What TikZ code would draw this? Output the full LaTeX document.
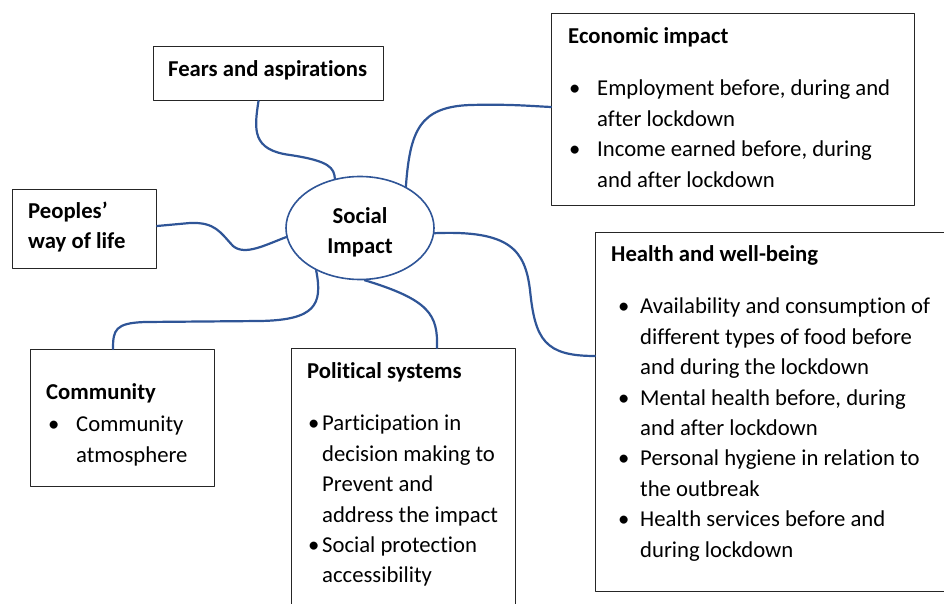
\documentclass[tikz,border=0pt]{standalone}
\usepackage{fontspec}
\usetikzlibrary{shapes.geometric}
\setmainfont{Carlito}[Ligatures=CommonOff]
\newcommand{\fs}{\fontsize{22.7}{30.4}\selectfont}
\newcommand{\itm}[2]{\hspace*{#1pt}\makebox[#2pt][l]{\textbullet}}
\newcommand{\skipin}[1]{\hspace*{#1pt}}
\definecolor{linkblue}{HTML}{2F5597}
\tikzset{
  box/.style={draw=black!85, line width=1pt, anchor=north west, inner sep=0},
  txt/.style={anchor=north west, align=left, inner sep=0, font=\fs},
  link/.style={draw=linkblue, line width=2.2pt, line cap=round}
}
\begin{document}
\begin{tikzpicture}[x=1pt,y=-1pt,line join=round]
  \useasboundingbox (0,0) rectangle (944,604);
  \clip (0,0) rectangle (944,604);
  % centre
  \node[ellipse, draw=linkblue, line width=1.6pt, minimum width=148, minimum height=103, inner sep=0, align=center, font=\fs\bfseries] (soc) at (360,228) {\rule{0pt}{24pt}Social\\Impact};
  % boxes
  \node[box, minimum width=230, minimum height=54] (fears) at (153,46) {};
  \node[box, minimum width=363, minimum height=192] (econ) at (551,13) {};
  \node[box, minimum width=144, minimum height=79] (life) at (12,189) {};
  \node[box, minimum width=349, minimum height=359] (health) at (595,232) {};
  \node[box, minimum width=184, minimum height=137] (comm) at (30,349) {};
  \node[box, minimum width=224, minimum height=280] (pol) at (291,348) {};
  % texts
  \node[txt] (fearst) at ([shift={(15,9)}]fears.north west) {\strut\textbf{Fears and aspirations}};
  \node[txt] (econt) at ([shift={(17,9)}]econ.north west) {\strut\textbf{Economic impact}\\[22pt]
    \itm{1}{28}Employment before, during and\\
    \skipin{29}after lockdown\\
    \itm{1}{28}Income earned before, during\\
    \skipin{29}and after lockdown};
  \node[txt] (lifet) at ([shift={(16,8)}]life.north west) {\strut\textbf{Peoples’}\\\textbf{way of life}};
  \node[txt] (healtht) at ([shift={(16,8)}]health.north west) {\strut\textbf{Health and well-being}\\[22pt]
    \itm{7}{22}Availability and consumption of\\
    \skipin{29}different types of food before\\
    \skipin{29}and during the lockdown\\
    \itm{7}{22}Mental health before, during\\
    \skipin{29}and after lockdown\\
    \itm{7}{22}Personal hygiene in relation to\\
    \skipin{29}the outbreak\\
    \itm{7}{22}Health services before and\\
    \skipin{29}during lockdown};
  \node[txt] (commt) at ([shift={(16,29)}]comm.north west) {\strut\textbf{Community}\\[2pt]
    \itm{2}{28}Community\\
    \skipin{30}atmosphere};
  \node[txt] (polt) at ([shift={(16,9)}]pol.north west) {\strut\textbf{Political systems}\\[22pt]
    \itm{1}{14}Participation in\\
    \skipin{15}decision making to\\
    \skipin{15}Prevent and\\
    \skipin{15}address the impact\\
    \itm{1}{14}Social protection\\
    \skipin{15}accessibility};
  % connectors
  \draw[link] ([xshift=-10pt]fears.south) .. controls (254,130) and (252,150) .. (290,155)
    .. controls (330,161) and (334,168) .. (soc.117);
  \draw[link] (soc.42) .. controls (410,130) and (420,107) .. (470,105)
    .. controls (510,104) and (530,106) .. (econ.west |- 0,107);
  \draw[link] (soc.-4) .. controls (510,230) and (525,250) .. (530,290)
    .. controls (535,340) and (545,356) .. (health.west |- 0,356);
  \draw[link] (soc.-85) .. controls (430,300) and (438,315) .. (pol.north -| 437,0);
  \draw[link] (soc.224) .. controls (323,305) and (315,320) .. (260,321) -- (145,322)
    .. controls (115,323) and (113,330) .. (comm.north -| 113,0);
  \draw[link] (soc.187) .. controls (265,245) and (245,256) .. (233,246)
    .. controls (220,232) and (215,222) .. (190,223) -- (life.east |- 0,226);
\end{tikzpicture}
\end{document}
